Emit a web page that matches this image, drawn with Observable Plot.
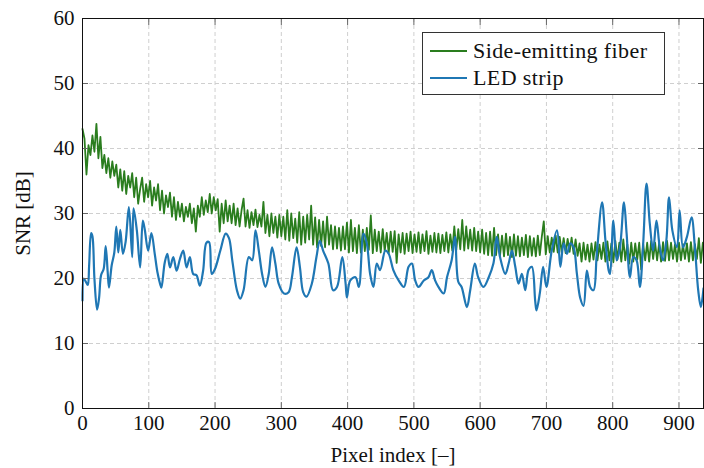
<!DOCTYPE html>
<html><head><meta charset="utf-8">
<script src="https://cdn.jsdelivr.net/npm/d3@7"></script>
<script src="https://cdn.jsdelivr.net/npm/@observablehq/plot@0.6"></script>
<style>
body{margin:0;background:#fff;}
#wrap{position:relative;width:704px;height:468px;font-family:"Liberation Serif",serif;}
.legend{position:absolute;left:422px;top:32px;width:241px;height:61px;border:1px solid #333;background:#fff;font-size:22px;letter-spacing:0.4px;color:#111;}
.item{position:absolute;left:7px;height:24px;display:flex;align-items:center;white-space:nowrap;}
.swatch{width:37px;height:0;border-top:2px solid;margin-right:6px;}
</style></head><body><div id="wrap"></div>
<script>
// Series: Side-emitting fiber, sampled every 3 pixel indices
const fiberStep = 3;
const fiberSNR = [
43,41.5,36,40.5,39,42,39.5,43.8,38.5,41.8,
37,39,36.2,38.5,35.5,38,35.8,37.5,34,36.8,
33.5,36.5,33,35.8,34,36.2,32.5,35.5,31.5,33.8,
35.5,31.8,34.5,32.5,35,31.2,34,32,34.5,30.5,
33.5,30,32.8,31,33.2,29.5,32.5,29,31.8,29.5,
31.5,28.8,31,29.5,31.5,28.5,30.8,27.2,31.2,29.5,
32.5,29.8,32,30.2,33,30,32.5,30.5,32.2,27.2,
31.5,28.5,32,28.8,31.2,28.5,31.5,28.2,30.8,28,
30.5,32.3,28,30.5,27.8,30.2,28.2,30.6,27.9,29.8,
28,31.8,27,29.8,26.5,30,27,29.5,26.3,29.8,
26.5,29.5,26,30.5,25.8,30,26.2,29.2,25.5,30.2,
25.2,29.5,25.5,29.8,26,31.2,25.2,29.4,24.8,29,
25,28.8,24.8,29.5,25.2,28.2,24.5,28,24.6,27.8,
24.3,28,24.5,28.6,24,29,24.2,27.8,23.9,28.2,
24,27.5,24.2,27.8,24.4,29.7,23.9,27.5,24.2,27.2,
24,27.6,24.2,27,23.9,27.2,24.1,27.3,22.4,26.8,
24,27,23.8,26.9,24.2,27.2,23.9,26.8,24.1,27.1,
23.9,26.8,24.2,27.3,23.8,26.6,24.1,27,24,26.9,
23.9,26.7,24.2,27.1,24,26.8,24.3,28,24.4,27.6,
24.5,29,24.3,28,24.6,27.5,24.3,27.8,24.2,27.2,
24,27.5,23.8,27,23.6,27.2,23.5,27.8,23.6,26.8,
23.5,26.6,23.4,26.9,23.6,26.4,23.3,26.8,23.5,26.5,
23.4,26.3,23.6,26.7,23.3,26.5,23.5,26.2,23.4,26.6,
23.6,26.4,28.8,23.7,26.5,24,26.3,24.1,26.6,24,
26.4,24,26.2,23.9,26.1,24.1,26.3,23.8,26,23.5,
25.4,22.6,25.5,22.9,25.2,22.6,25.4,22.9,25.6,22.8,
25.2,23,25.5,22.6,25.7,22.8,25.4,22.5,25.8,22.9,
25.5,22.6,26,22.8,25.3,22.3,25.5,22.6,25.4,22.9,
25.5,21.4,25.3,22.8,25.5,22.6,25.8,23,25.5,22.8,
25.4,22.6,25.6,22.7,25.8,22.8,25.5,23,25.3,22.6,
25.5,22.8,25.3,23,25.4,22.6,25.6,22.8,25.3,23,
26.2,22.4,25.5
];
// Series: LED strip
const ledIndex = [0,2,5,8,10,13,15,18,22,25,28,32,35,38,40,44,48,51,54,57,61,65,70,75,77,82,87,91,94,99,104,109,113,117,119,124,128,132,137,142,147,152,157,162,167,172,177,182,187,191,195,200,208,216,221,226,233,238,243,251,256,261,266,271,276,281,286,291,296,304,311,316,323,328,333,338,346,353,358,363,371,378,384,392,397,399,404,412,417,424,429,434,439,444,449,457,462,469,477,485,492,497,502,507,515,522,527,532,537,545,550,557,562,567,572,580,585,592,597,605,613,620,625,630,638,643,648,653,658,663,668,673,678,683,685,690,695,700,708,716,721,726,731,736,741,746,751,756,761,766,771,776,784,789,794,796,801,806,811,817,821,826,831,836,841,846,851,856,861,866,871,876,881,885,890,897,901,906,912,919,924,929,933,937];
const ledSNR = [16.6,20,19.5,19,22,27,26.5,20,15.2,17,20.5,21.5,25,21,18.6,22,24,28,24,27.5,23.8,25.6,31,23.3,30.8,27.4,21.7,28.9,27.5,24.3,27,23.8,21,19.2,18.6,22.4,23.8,21.7,23.3,21.2,23,24.3,21.7,23.3,20.7,20.5,18.9,21.2,25.5,25.6,20.7,21.5,24.3,26.9,26.2,22.8,18.2,16.9,18.2,23.3,22.8,27.4,24.3,20.7,18.7,20.7,24.8,22.3,19.2,17.7,17.9,20.2,24.8,21.8,17.9,17.2,19.2,23.3,25.8,24.3,22.3,18.2,18.7,23.3,19.2,17.1,19.7,20.2,18.7,26.9,25.4,20.7,18.7,22.3,21.3,24.3,23.8,21.3,19.7,18.7,21.8,22.3,19.7,18.7,19.7,20.2,21.3,19.7,18.7,17.7,20.2,22.8,26.4,19.5,18.7,15.6,18.2,22.3,20.2,18.7,20.2,22.3,26.4,23.3,20.7,22.3,24.3,21.8,19.2,20.7,18.2,21.3,21.8,16.6,15.1,17.7,21.8,18.7,24.3,27.4,21.8,25.4,23.8,25.4,24.8,20.7,17,15.8,21.2,18.7,18.2,23.8,31.7,25.9,21.2,20.7,28.9,22.8,24.8,31.7,26.9,20.2,23.3,22.8,18.7,25.4,34.6,28.4,24.3,28.9,24.8,22.8,25.9,32.5,27.4,24.8,30.5,24.8,26.4,29.4,24.8,18.2,15.6,18.5];
const xTicks = [0,100,200,300,400,500,600,700,800,900];
const yTicks = [0,10,20,30,40,50,60];
const seriesNames = ["Side-emitting fiber","LED strip"];
const seriesColors = ["#2a7d1e","#1f77b4"];

const fiber = fiberSNR.map((v,i)=>({x:i*fiberStep, y:v}));
const led = ledIndex.map((x,i)=>({x, y:ledSNR[i]}));

const gridStyle = {stroke:"#cfcfcf", strokeOpacity:1, strokeDasharray:"4,3"};
const chart = Plot.plot({
  width:704, height:468,
  marginLeft:82, marginRight:1, marginTop:18, marginBottom:60,
  style:{fontFamily:"Liberation Serif", fontSize:"21px", color:"#111", background:"#fff"},
  x:{domain:[0,937]},
  y:{domain:[0,60]},
  marks:[
    Plot.gridX(xTicks, gridStyle),
    Plot.gridY(yTicks, gridStyle),
    Plot.line(fiber,{x:"x",y:"y",stroke:seriesColors[0],strokeWidth:1.8}),
    Plot.line(led,{x:"x",y:"y",stroke:seriesColors[1],strokeWidth:2.2,curve:"catmull-rom"}),
    Plot.axisX(xTicks,{anchor:"bottom", tickSize:-6, tickPadding:13, stroke:"#666", label:"Pixel index [–]", labelAnchor:"center", labelArrow:"none", labelOffset:53}),
    Plot.axisX(xTicks,{anchor:"top", tickSize:-6, stroke:"#666", tickFormat:()=>"", label:null}),
    Plot.axisY(yTicks,{anchor:"left", tickSize:-6, tickPadding:14, stroke:"#666", label:"SNR [dB]", labelAnchor:"center", labelArrow:"none", labelOffset:67}),
    Plot.axisY(yTicks,{anchor:"right", tickSize:-6, stroke:"#666", tickFormat:()=>"", label:null}),
    Plot.frame({stroke:"#111", strokeWidth:1})
  ]
});
const wrap = document.getElementById("wrap");
wrap.appendChild(chart);
const leg = document.createElement("div");
leg.className = "legend";
seriesNames.forEach((n,i)=>{
  const it = document.createElement("div");
  it.className = "item";
  it.style.top = (i===0 ? 6 : 33) + "px";
  const sw = document.createElement("span");
  sw.className = "swatch";
  sw.style.borderColor = seriesColors[i];
  const t = document.createElement("span");
  t.textContent = n;
  it.appendChild(sw); it.appendChild(t);
  leg.appendChild(it);
});
wrap.appendChild(leg);
</script></body></html>
